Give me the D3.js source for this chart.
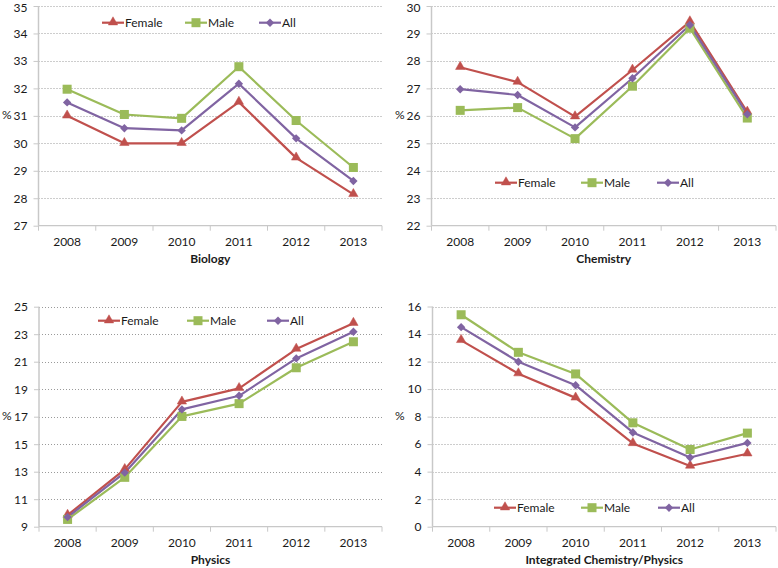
<!DOCTYPE html>
<html><head><meta charset="utf-8">
<script src="https://cdn.jsdelivr.net/npm/d3@7"></script>
<style>
body{margin:0;background:#fff;}
text{font-family:Lato,"Open Sans",sans-serif;fill:#1a1a1a;}
</style></head>
<body>
<svg id="c" width="778" height="568"></svg>
<script>
const years = ["2008","2009","2010","2011","2012","2013"];
const seriesNames = ["Female","Male","All"];

const biologyFemale = [31.0, 30.0, 30.0, 31.5, 29.47, 28.14];
const biologyMale   = [31.97, 31.05, 30.91, 32.79, 30.83, 29.12];
const biologyAll    = [31.49, 30.55, 30.47, 32.17, 30.18, 28.63];

const chemistryFemale = [27.77, 27.23, 25.97, 27.67, 29.43, 26.14];
const chemistryMale   = [26.2, 26.3, 25.17, 27.08, 29.19, 25.92];
const chemistryAll    = [26.97, 26.76, 25.58, 27.37, 29.31, 26.06];

const physicsFemale = [9.84, 13.17, 18.08, 19.06, 21.92, 23.8];
const physicsMale   = [9.53, 12.59, 17.02, 17.95, 20.56, 22.45];
const physicsAll    = [9.7, 12.93, 17.53, 18.52, 21.24, 23.18];

const integratedFemale = [13.54, 11.12, 9.36, 6.05, 4.41, 5.3];
const integratedMale   = [15.4, 12.67, 11.1, 7.55, 5.61, 6.8];
const integratedAll    = [14.5, 11.99, 10.28, 6.85, 5.03, 6.09];

const biologyTicks = [27,28,29,30,31,32,33,34,35];
const chemistryTicks = [22,23,24,25,26,27,28,29,30];
const physicsTicks = [9,11,13,15,17,19,21,23,25];
const integratedTicks = [0,2,4,6,8,10,12,14,16];

const titles = ["Biology","Chemistry","Physics","Integrated Chemistry/Physics"];

const colors = {Female:"#C0504D", Male:"#9BBB59", All:"#8064A2"};

const panels = [
  {title:titles[0], data:[biologyFemale,biologyMale,biologyAll], ticks:biologyTicks,
   x0:38.5, x1:382, y0:6, y1:225.7, legendY:22.7, legendX:[102,185,259], pctY:115, pctX:2},
  {title:titles[1], data:[chemistryFemale,chemistryMale,chemistryAll], ticks:chemistryTicks,
   x0:431.5, x1:776, y0:6, y1:225.7, legendY:182.7, legendX:[495,581,657], pctY:115, pctX:395},
  {title:titles[2], data:[physicsFemale,physicsMale,physicsAll], ticks:physicsTicks,
   x0:39, x1:382, y0:306.7, y1:526.7, legendY:320.7, legendX:[98,187,267], pctY:416, pctX:2},
  {title:titles[3], data:[integratedFemale,integratedMale,integratedAll], ticks:integratedTicks,
   x0:432.5, x1:776, y0:306.5, y1:526.7, legendY:507.7, legendX:[494,581,658], pctY:416, pctX:395}
];

const svg = d3.select("#c");

function marker(g, name, x, y){
  const c = colors[name];
  if(name==="Female"){
    g.append("path").attr("d", d3.symbol().type(d3.symbolTriangle).size(38)())
      .attr("transform",`translate(${x},${y-0.5})`).attr("fill",c).attr("stroke",c).attr("stroke-width",0.5);
  } else if(name==="Male"){
    g.append("rect").attr("x",x-4.5).attr("y",y-4.5).attr("width",9).attr("height",9).attr("fill",c);
  } else {
    g.append("path").attr("d","M0,-4.2L4.2,0L0,4.2L-4.2,0Z")
      .attr("transform",`translate(${x},${y})`).attr("fill",c);
  }
}

panels.forEach(p=>{
  const g = svg.append("g");
  const x = d3.scaleBand().domain(years).range([p.x0,p.x1]).padding(0);
  const y = d3.scaleLinear().domain([p.ticks[0], p.ticks[p.ticks.length-1]]).range([p.y1,p.y0]);

  // gridlines
  g.selectAll(".grid").data(p.ticks.slice(1)).enter().append("line")
    .attr("x1",p.x0).attr("x2",p.x1).attr("y1",d=>Math.round(y(d))+0.5).attr("y2",d=>Math.round(y(d))+0.5)
    .attr("stroke","#9a9a9a").attr("stroke-width",1).attr("stroke-dasharray","1,2");

  // y axis
  const ya = d3.axisLeft(y).tickValues(p.ticks).tickSize(5).tickPadding(6).tickFormat(d3.format("d"));
  const yg = g.append("g").attr("transform",`translate(${p.x0},0)`).call(ya);
  yg.select(".domain").attr("stroke","#c8c8c8").attr("stroke-width",1.5).attr("d",`M0,${p.y0}V${p.y1}`);
  yg.selectAll(".tick line").attr("stroke","#c8c8c8");
  yg.selectAll(".tick text").style("font-size","12px").attr("fill","#1a1a1a")
    .attr("dy", d => d===p.ticks[p.ticks.length-1] && p.y0 < 10 ? "0.42em" : "0.32em");

  // x axis
  const xg = g.append("g").attr("transform",`translate(0,${p.y1})`);
  xg.append("line").attr("x1",p.x0).attr("x2",p.x1).attr("stroke","#c8c8c8").attr("stroke-width",1.2);
  const bounds = years.map(d=>x(d)).concat([p.x1]);
  xg.selectAll(".xt").data(bounds).enter().append("line")
    .attr("x1",d=>d).attr("x2",d=>d).attr("y1",0).attr("y2",5).attr("stroke","#c8c8c8");
  xg.selectAll(".xl").data(years).enter().append("text")
    .attr("x",d=>x(d)+x.bandwidth()/2).attr("y",20).attr("text-anchor","middle")
    .style("font-size","12px").text(d=>d);

  // titles
  g.append("text").attr("x",(p.x0+p.x1)/2).attr("y",p.y1+37).attr("text-anchor","middle")
    .style("font-size","12px").style("font-weight","bold").text(p.title);
  g.append("text").attr("x",p.pctX).attr("y",p.pctY+4).style("font-size","12px").text("%");

  // series
  const line = d3.line().x((d,i)=>x(years[i])+x.bandwidth()/2).y(d=>y(d));
  p.data.forEach((vals,si)=>{
    const name = seriesNames[si];
    g.append("path").datum(vals).attr("d",line).attr("fill","none")
      .attr("stroke",colors[name]).attr("stroke-width",2.2).attr("stroke-linejoin","round");
  });
  p.data.forEach((vals,si)=>{
    const name = seriesNames[si];
    vals.forEach((v,i)=>marker(g,name,x(years[i])+x.bandwidth()/2,y(v)));
  });

  // legend
  seriesNames.forEach((name,i)=>{
    const lx = p.legendX[i];
    g.append("line").attr("x1",lx).attr("x2",lx+22).attr("y1",p.legendY).attr("y2",p.legendY)
      .attr("stroke",colors[name]).attr("stroke-width",2.2);
    marker(g,name,lx+11,p.legendY);
    g.append("text").attr("x",lx+23).attr("y",p.legendY+4.5).style("font-size","12px").text(name);
  });
});
</script>
</body></html>
